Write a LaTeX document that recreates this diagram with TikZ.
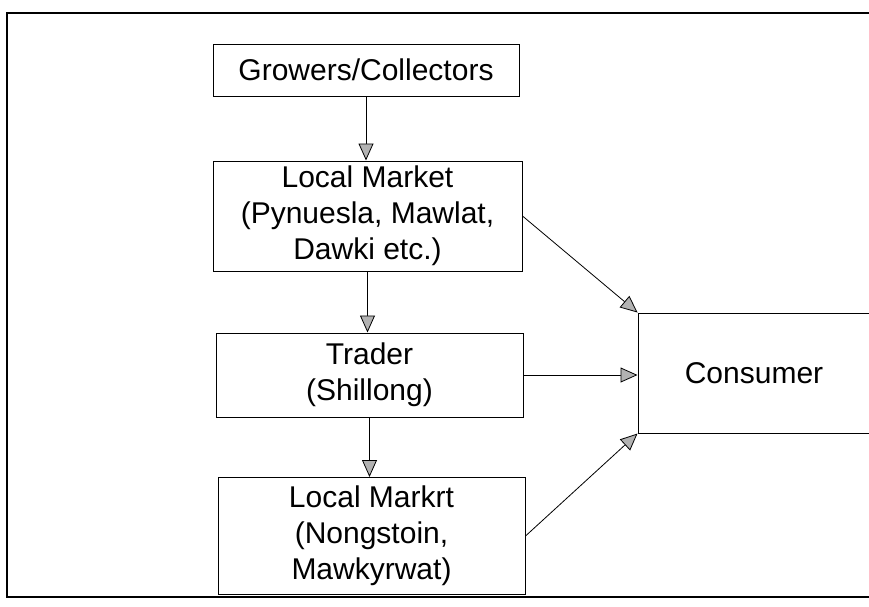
\documentclass[tikz,border=0pt]{standalone}
\usepackage{fontspec}
\setmainfont{Liberation Sans}
\usetikzlibrary{arrows.meta}
\tikzset{
  box/.style={draw, line width=1pt, align=center, inner sep=0pt,
    font=\fontsize{30}{36}\selectfont},
  flow/.style={line width=0.8pt, -{Triangle[length=17pt,width=15pt,fill=gray!60]}}
}
\begin{document}
\begin{tikzpicture}[x=1pt,y=-1pt]
    \useasboundingbox (0,0) rectangle (869,606);
    \clip (0,0) rectangle (869,606);
    \draw[line width=1.2pt] (7,13) rectangle (880,597);

    \node[box, minimum width=306pt, minimum height=52pt] (grow) at (366,70) {Growers/Collectors};
    \node[box, minimum width=309pt, minimum height=110pt] (localA) at (367.5,216) {Local Market\\(Pynuesla, Mawlat,\\Dawki etc.)};
    \node[box, minimum width=307pt, minimum height=84pt] (trader) at (369.5,375) {Trader\\(Shillong)};
    \node[box, minimum width=307pt, minimum height=117pt] (localB) at (371.5,536) {Local Markrt\\(Nongstoin,\\Mawkyrwat)};
    \node[box, minimum width=232pt, minimum height=120pt] (cons) at (754,373) {Consumer};

    \draw[flow] (grow.south) -- (grow.south |- localA.north);
    \draw[flow] (localA.south) -- (localA.south |- trader.north);
    \draw[flow] (trader.south) -- (trader.south |- localB.north);
    \draw[flow] (localA.east) -- (cons.north west);
    \draw[flow] (trader.east) -- (trader.east -| cons.west);
    \draw[flow] (localB.east) -- (cons.south west);
  \end{tikzpicture}
\end{document}
